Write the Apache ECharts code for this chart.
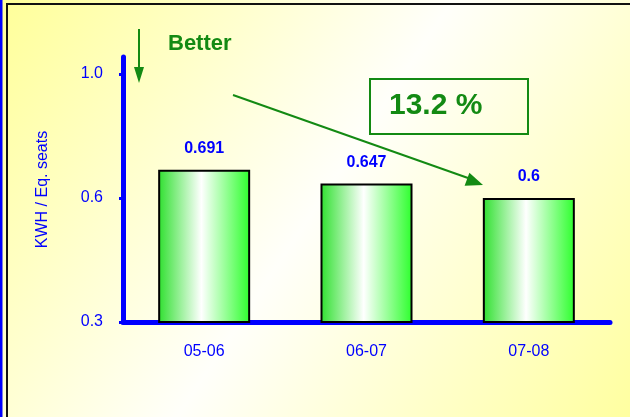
<!DOCTYPE html>
<html>
<head>
<meta charset="utf-8">
<script src="https://cdn.jsdelivr.net/npm/echarts@6/dist/echarts.min.js"></script>
<style>
  html, body { margin: 0; padding: 0; }
  #chart { width: 630px; height: 417px; }
</style>
</head>
<body>
<div id="chart"></div>
<script>
// data
let seasons = ["05-06", "06-07", "07-08"];
let kwh_values = [0.691, 0.647, 0.6];
let y_tick_values = [0.2, 0.6, 1.0];
let y_tick_labels = ["0.3", "0.6", "1.0"];
let y_name = "KWH / Eq. seats";
let drop_text = "13.2 %";
let better_text = "Better";

let font = "Liberation Sans, Arial, sans-serif";
let blue = "#0000ff";
let green = "#138a13";

function arrowHead(x1, y1, x2, y2, len, half) {
  let a = Math.atan2(y2 - y1, x2 - x1);
  let bx = x2 - len * Math.cos(a), by = y2 - len * Math.sin(a);
  return [
    [x2, y2],
    [bx + half * Math.sin(a), by - half * Math.cos(a)],
    [bx - half * Math.sin(a), by + half * Math.cos(a)]
  ];
}

function showChart() {
  let chart = echarts.init(document.getElementById("chart"));
  let option = {
    backgroundColor: new echarts.graphic.LinearGradient(0, 0, 1, 1, [
      { offset: 0, color: "#ffff99" },
      { offset: 0.5, color: "#fffffa" },
      { offset: 1, color: "#ffffa0" }
    ]),
    animation: false,
    grid: { left: 123, right: 20, top: 57, bottom: 95 },
    xAxis: {
      type: "category",
      data: seasons,
      axisLine: { lineStyle: { color: blue, width: 5 } },
      axisTick: { length: 4, lineStyle: { color: blue, width: 3 } },
      axisLabel: { color: blue, fontSize: 16, margin: 22, fontFamily: font }
    },
    yAxis: {
      type: "value",
      min: 0.2,
      max: 1.055,
      name: y_name,
      nameLocation: "middle",
      nameGap: 72,
      nameTextStyle: { color: blue, fontSize: 16, fontFamily: font },
      splitLine: { show: false },
      axisLine: { show: true, lineStyle: { color: blue, width: 5 } },
      axisTick: {
        show: true,
        length: 4,
        customValues: y_tick_values,
        lineStyle: { color: blue, width: 3 }
      },
      axisLabel: {
        color: blue,
        fontSize: 16,
        margin: 20,
        fontFamily: font,
        customValues: y_tick_values,
        formatter: function(v) {
          let i = y_tick_values.findIndex(function(t) { return Math.abs(t - v) < 1e-6; });
          return i >= 0 ? y_tick_labels[i] : "";
        }
      }
    },
    series: [
      {
        type: "bar",
        data: kwh_values,
        barWidth: 92,
        itemStyle: {
          color: new echarts.graphic.LinearGradient(0, 0, 1, 0, [
            { offset: 0, color: "#2ee02e" },
            { offset: 0.47, color: "#ffffff" },
            { offset: 1, color: "#2cff2c" }
          ]),
          borderColor: "#000",
          borderWidth: 2
        },
        label: {
          show: true,
          position: "top",
          distance: 13,
          color: blue,
          fontWeight: "bold",
          fontSize: 16,
          fontFamily: font,
          formatter: function(p) { return String(p.value); }
        }
      }
    ],
    graphic: [
      { type: "line", shape: { x1: 1, y1: 0, x2: 1, y2: 417 }, style: { stroke: blue, lineWidth: 3 } },
      { type: "polyline", shape: { points: [[7, 417], [7, 4], [630, 4]] }, style: { stroke: "#111", lineWidth: 2, fill: null } },
      { type: "line", shape: { x1: 139, y1: 29, x2: 139, y2: 70 }, style: { stroke: green, lineWidth: 2 } },
      { type: "polygon", shape: { points: arrowHead(139, 29, 139, 83, 16, 5) }, style: { fill: green } },
      {
        type: "text", left: 168, top: 33,
        style: { text: better_text, fill: green, font: "bold 22px " + font }
      },
      { type: "line", shape: { x1: 233, y1: 95, x2: 468, y2: 178 }, style: { stroke: green, lineWidth: 2 } },
      { type: "polygon", shape: { points: arrowHead(233, 95, 483, 185, 17, 7) }, style: { fill: green } },
      {
        type: "rect", shape: { x: 370, y: 79, width: 158, height: 55 },
        style: { fill: null, stroke: green, lineWidth: 2 }
      },
      {
        type: "text", left: 389, top: 91,
        style: { text: drop_text, fill: green, font: "bold 30px " + font }
      }
    ]
  };
  chart.setOption(option);
}

showChart();
</script>
</body>
</html>
